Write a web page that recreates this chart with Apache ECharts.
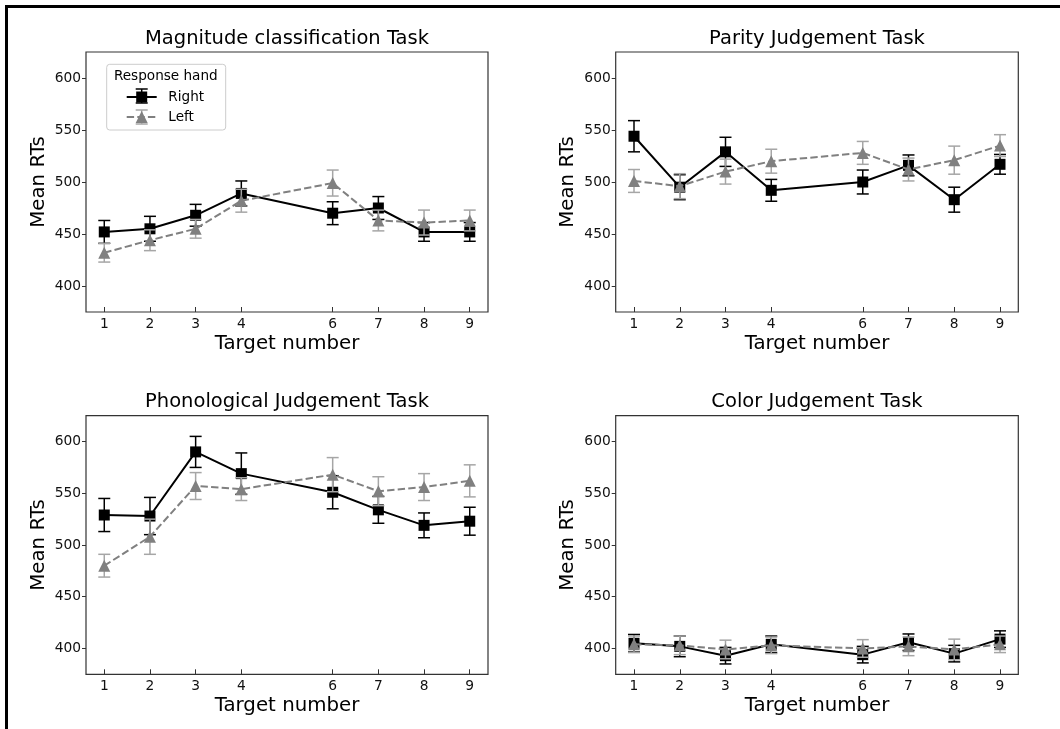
<!DOCTYPE html>
<html>
<head>
<meta charset="utf-8">
<script src="https://cdn.jsdelivr.net/npm/echarts@6/dist/echarts.min.js"></script>
<style>
html,body{margin:0;padding:0;background:#fff;}
#chart{width:1060px;height:729px;}
</style>
</head>
<body>
<div id="chart"></div>
<script>
// ---- data ----
var targets = [1, 2, 3, 4, 6, 7, 8, 9];
var yTicks = [400, 450, 500, 550, 600];
var taskTitles = ['Magnitude classification Task', 'Parity Judgement Task', 'Phonological Judgement Task', 'Color Judgement Task'];

var magRight = [452, 455, 468, 489, 470, 475, 452, 452];
var magRightErr = [11, 12, 10.5, 12, 11, 11, 9, 9];
var magLeft = [432, 444, 455, 482, 499, 463, 461, 463];
var magLeftErr = [9, 10, 9, 11, 12.5, 10, 12, 10];

var parRight = [544, 495, 529, 492, 500, 516, 483, 517];
var parRightErr = [15, 12, 14, 10.5, 11.5, 10, 12, 9.5];
var parLeft = [501, 496, 510, 520, 528, 512, 521, 535];
var parLeftErr = [11, 12, 12, 11.5, 11, 11, 13.5, 10.5];

var phoRight = [529, 528, 590, 569, 551, 534, 519, 523];
var phoRightErr = [16, 18, 15, 20, 16, 13, 12, 13.5];
var phoLeft = [480, 508, 557, 554, 568, 552, 556, 562];
var phoLeftErr = [11, 17, 13, 11, 16.5, 14, 13, 15.5];

var colRight = [405, 402, 393, 404, 394, 406, 395, 409];
var colRightErr = [8.5, 10, 8, 8, 8, 8, 8, 8];
var colLeft = [404, 403, 399, 403, 400, 402, 399, 404];
var colLeftErr = [8, 9, 9, 8, 8.5, 9, 10, 8];

var rightSets = [magRight, parRight, phoRight, colRight];
var rightErrSets = [magRightErr, parRightErr, phoRightErr, colRightErr];
var leftSets = [magLeft, parLeft, phoLeft, colLeft];
var leftErrSets = [magLeftErr, parLeftErr, phoLeftErr, colLeftErr];

// ---- layout ----
var FONT = 'DejaVu Sans';
var grids = [
  {left: 86, top: 52, width: 402, height: 260},
  {left: 615.7, top: 52, width: 402.6, height: 260},
  {left: 86, top: 415.7, width: 402, height: 258.6},
  {left: 615.7, top: 415.7, width: 402.6, height: 258.6}
];
var titleTops = [28.5, 28.5, 391.8, 391.8];

var BLACK = '#000000', GRAY = '#808080', GRAY_ERR = '#a6a6a6';

function errRenderer(color) {
  return function (params, api) {
    var x = api.value(0), lo = api.value(1), hi = api.value(2);
    var pLo = api.coord([x, lo]), pHi = api.coord([x, hi]);
    var hw = 6;
    var st = {stroke: color, lineWidth: 1.5, fill: null};
    return {
      type: 'group',
      children: [
        {type: 'line', shape: {x1: pLo[0], y1: pLo[1], x2: pHi[0], y2: pHi[1]}, style: st},
        {type: 'line', shape: {x1: pLo[0] - hw, y1: pLo[1], x2: pLo[0] + hw, y2: pLo[1]}, style: st},
        {type: 'line', shape: {x1: pHi[0] - hw, y1: pHi[1], x2: pHi[0] + hw, y2: pHi[1]}, style: st}
      ]
    };
  };
}

function pts(vals) { return targets.map(function (t, i) { return [t, vals[i]]; }); }
function errPts(vals, errs) { return targets.map(function (t, i) { return [t, vals[i] - errs[i], vals[i] + errs[i]]; }); }

var option = {
  backgroundColor: '#ffffff',
  animation: false,
  textStyle: {fontFamily: FONT},
  title: [], grid: [], xAxis: [], yAxis: [], series: [],
  graphic: []
};

for (var k = 0; k < 4; k++) {
  var g = grids[k];
  option.grid.push({left: g.left, top: g.top, width: g.width, height: g.height,
    show: true, borderColor: '#333', borderWidth: 1.2, backgroundColor: 'transparent', containLabel: false});
  option.title.push({text: taskTitles[k], left: g.left + g.width / 2, top: titleTops[k], textAlign: 'center', padding: 0,
    textStyle: {fontFamily: FONT, fontSize: 19.5, fontWeight: 'normal', color: '#000'}});
  option.xAxis.push({
    type: 'value', gridIndex: k, min: 0.6, max: 9.4,
    name: 'Target number', nameLocation: 'middle', nameGap: 21.5,
    nameTextStyle: {fontFamily: FONT, fontSize: 19.8, color: '#000'},
    axisLine: {show: false},
    axisTick: {show: true, inside: true, length: 5, customValues: targets, lineStyle: {color: '#333', width: 1}},
    axisLabel: {show: true, margin: 5, customValues: targets, fontFamily: FONT, fontSize: 13.8, color: '#111'},
    splitLine: {show: false}
  });
  option.yAxis.push({
    type: 'value', gridIndex: k, min: 375, max: 625,
    name: 'Mean RTs', nameLocation: 'middle', nameGap: 37.5,
    nameTextStyle: {fontFamily: FONT, fontSize: 19.8, color: '#000'},
    axisLine: {show: false},
    axisTick: {show: true, inside: false, length: 4, customValues: yTicks, lineStyle: {color: '#333', width: 1}},
    axisLabel: {show: true, margin: 5, customValues: yTicks, fontFamily: FONT, fontSize: 13.8, color: '#111'},
    splitLine: {show: false}
  });
  option.series.push({
    type: 'custom', name: 'Right error', xAxisIndex: k, yAxisIndex: k,
    renderItem: errRenderer(BLACK), data: errPts(rightSets[k], rightErrSets[k]), z: 1, silent: true
  });
  option.series.push({
    type: 'line', name: 'Right', xAxisIndex: k, yAxisIndex: k,
    data: pts(rightSets[k]), symbol: 'rect', symbolSize: 11,
    lineStyle: {color: BLACK, width: 2}, itemStyle: {color: BLACK}, z: 2
  });
  option.series.push({
    type: 'custom', name: 'Left error', xAxisIndex: k, yAxisIndex: k,
    renderItem: errRenderer(GRAY_ERR), data: errPts(leftSets[k], leftErrSets[k]), z: 3, silent: true
  });
  option.series.push({
    type: 'line', name: 'Left', xAxisIndex: k, yAxisIndex: k,
    data: pts(leftSets[k]), symbol: 'triangle', symbolSize: 12,
    lineStyle: {color: GRAY, width: 2, type: [7.4, 3.2]}, itemStyle: {color: GRAY}, z: 4
  });
}

// ---- legend (drawn as graphic) ----
var lg = {x: 106.7, y: 64.3, w: 119, h: 65.7};
var hx1 = 126.7, hx2 = 156.7, hc = 141.7;
option.graphic = [
  {type: 'rect', shape: {x: lg.x, y: lg.y, width: lg.w, height: lg.h, r: 3},
    style: {fill: '#fff', stroke: '#cccccc', lineWidth: 1}, z: 100},
  {type: 'text', x: 165.8, y: 76, style: {text: 'Response hand', font: '13.6px "DejaVu Sans"', fill: '#000', align: 'center', verticalAlign: 'middle'}, z: 101},
  // Right handle
  {type: 'line', shape: {x1: hx1, y1: 97, x2: hx2, y2: 97}, style: {stroke: BLACK, lineWidth: 2}, z: 101},
  {type: 'line', shape: {x1: hc, y1: 89, x2: hc, y2: 103}, style: {stroke: BLACK, lineWidth: 1.5}, z: 101},
  {type: 'line', shape: {x1: hc - 6, y1: 89, x2: hc + 6, y2: 89}, style: {stroke: BLACK, lineWidth: 1.5}, z: 101},
  {type: 'line', shape: {x1: hc - 6, y1: 103, x2: hc + 6, y2: 103}, style: {stroke: BLACK, lineWidth: 1.5}, z: 101},
  {type: 'rect', shape: {x: hc - 5.5, y: 91.5, width: 11, height: 11}, style: {fill: BLACK}, z: 102},
  {type: 'text', x: 168.3, y: 97, style: {text: 'Right', font: '13.6px "DejaVu Sans"', fill: '#000', align: 'left', verticalAlign: 'middle'}, z: 101},
  // Left handle
  {type: 'line', shape: {x1: hc, y1: 110, x2: hc, y2: 124}, style: {stroke: GRAY_ERR, lineWidth: 1.5}, z: 101},
  {type: 'line', shape: {x1: hc - 6, y1: 110, x2: hc + 6, y2: 110}, style: {stroke: GRAY_ERR, lineWidth: 1.5}, z: 101},
  {type: 'line', shape: {x1: hc - 6, y1: 124, x2: hc + 6, y2: 124}, style: {stroke: GRAY_ERR, lineWidth: 1.5}, z: 101},
  {type: 'line', shape: {x1: hx1, y1: 117, x2: hx2, y2: 117}, style: {stroke: GRAY, lineWidth: 2, lineDash: [7.4, 3.2]}, z: 102},
  {type: 'polygon', shape: {points: [[hc, 111], [hc - 6, 123], [hc + 6, 123]]}, style: {fill: GRAY}, z: 103},
  {type: 'text', x: 168.3, y: 117, style: {text: 'Left', font: '13.6px "DejaVu Sans"', fill: '#000', align: 'left', verticalAlign: 'middle'}, z: 101},
  // outer frame (top and left edges)
  {type: 'line', shape: {x1: 5, y1: 6.5, x2: 1060, y2: 6.5}, style: {stroke: '#000', lineWidth: 3}, z: 100},
  {type: 'line', shape: {x1: 6.5, y1: 5, x2: 6.5, y2: 729}, style: {stroke: '#000', lineWidth: 3}, z: 100}
];

var chart = echarts.init(document.getElementById('chart'), null, {renderer: 'canvas'});
chart.setOption(option);
</script>
</body>
</html>
